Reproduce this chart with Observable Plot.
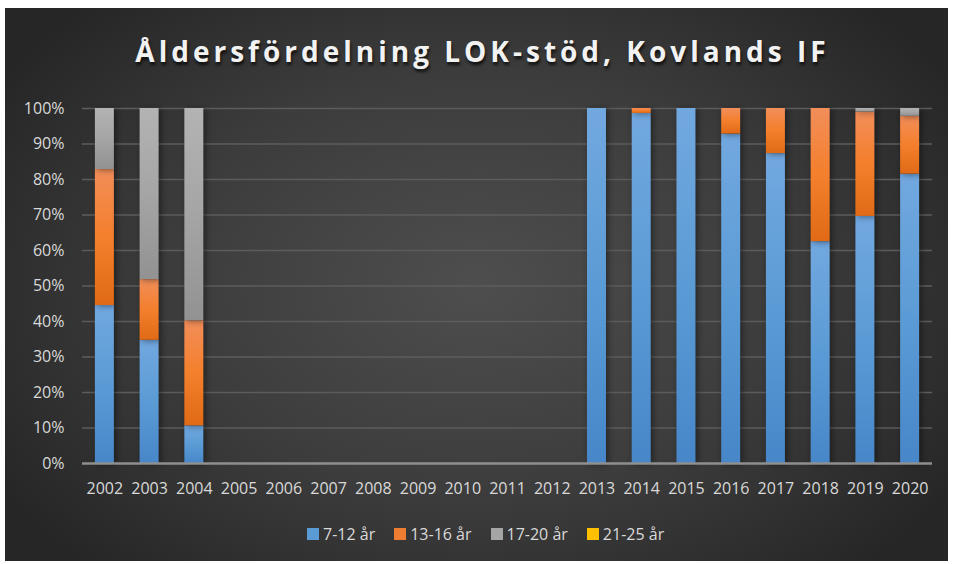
<!DOCTYPE html>
<html>
<head>
<meta charset="utf-8">
<script src="https://cdn.jsdelivr.net/npm/d3@7"></script>
<script src="https://cdn.jsdelivr.net/npm/@observablehq/plot@0.6"></script>
<style>
  html, body { margin: 0; padding: 0; background: #ffffff; }
  #box {
    position: absolute; left: 5px; top: 8px; width: 943px; height: 553px;
    background: radial-gradient(ellipse 60% 70% at 50% 50%, #4e4e4e 0%, #3c3c3c 55%, #262626 100%);
    overflow: hidden; font-family: "Open Sans", sans-serif;
  }
  #title {
    position: absolute; left: 0; top: 24px; width: 955px; text-align: center;
    color: #f2f2f2; font-size: 28px; font-weight: 700; letter-spacing: 4px;
    text-shadow: 1px 3px 3px rgba(0,0,0,0.7);
  }
  #chart { position: absolute; left: 0; top: 82px; }
  #legend {
    position: absolute; left: 302px; top: 515px; display: flex; align-items: center;
    color: #d9d9d9; font-size: 16px;
  }
  #legend .item { display: flex; align-items: center; margin-right: 19px; }
  #legend .sw { width: 12px; height: 12px; margin-right: 4px; }
  g[aria-label="bar"] rect { filter: drop-shadow(2px 1px 3px rgba(0,0,0,0.45)); }
</style>
</head>
<body>
<svg width="0" height="0" style="position:absolute">
  <defs>
    <linearGradient id="g0" x1="0" y1="0" x2="0" y2="1">
      <stop offset="0" stop-color="#72a8e0"/><stop offset="0.5" stop-color="#5b9bd5"/><stop offset="1" stop-color="#4787c9"/>
    </linearGradient>
    <linearGradient id="g1" x1="0" y1="0" x2="0" y2="1">
      <stop offset="0" stop-color="#f28e5a"/><stop offset="0.5" stop-color="#f47f2c"/><stop offset="1" stop-color="#e06a16"/>
    </linearGradient>
    <linearGradient id="g2" x1="0" y1="0" x2="0" y2="1">
      <stop offset="0" stop-color="#b3b3b3"/><stop offset="0.5" stop-color="#a5a5a5"/><stop offset="1" stop-color="#929292"/>
    </linearGradient>
    <linearGradient id="g3" x1="0" y1="0" x2="0" y2="1">
      <stop offset="0" stop-color="#ffcd33"/><stop offset="1" stop-color="#f0b400"/>
    </linearGradient>
  </defs>
</svg>
<div id="box">
  <div id="title">Åldersfördelning LOK-stöd, Kovlands IF</div>
  <div id="chart"></div>
  <div id="legend"></div>
</div>
<script>
const years = ["2002","2003","2004","2005","2006","2007","2008","2009","2010","2011","2012","2013","2014","2015","2016","2017","2018","2019","2020"];
const series = ["7-12 år","13-16 år","17-20 år","21-25 år"];
const s712  = [44.5, 34.7, 10.6, 0, 0, 0, 0, 0, 0, 0, 0, 100, 98.6, 100, 92.8, 87.3, 62.5, 69.6, 81.5];
const s1316 = [38.3, 17.1, 29.6, 0, 0, 0, 0, 0, 0, 0, 0, 0, 1.4, 0, 7.2, 12.7, 37.5, 29.4, 16.3];
const s1720 = [17.2, 48.2, 59.8, 0, 0, 0, 0, 0, 0, 0, 0, 0, 0, 0, 0, 0, 0, 1.0, 2.2];
const s2125 = [0, 0, 0, 0, 0, 0, 0, 0, 0, 0, 0, 0, 0, 0, 0, 0, 0, 0, 0];
const yTicks = [0, 10, 20, 30, 40, 50, 60, 70, 80, 90, 100];
const swatchColors = ["#5b9bd5", "#ed7d31", "#a5a5a5", "#ffc000"];
const gradients = ["url(#g0)", "url(#g1)", "url(#g2)", "url(#g3)"];

const values = [s712, s1316, s1720, s2125];
const rows = [];
series.forEach((s, i) => years.forEach((y, j) => rows.push({year: y, serie: s, value: values[i][j]})));

const chart = Plot.plot({
  width: 943, height: 418,
  marginLeft: 77, marginRight: 16, marginTop: 18, marginBottom: 45,
  style: {background: "transparent", color: "#d9d9d9", fontFamily: "'Open Sans', sans-serif", fontSize: "16px", overflow: "visible"},
  x: {domain: years, paddingInner: 0.575, paddingOuter: 0.2875, round: false, label: null, tickSize: 0, tickPadding: 19},
  y: {domain: [0, 100], ticks: yTicks, tickFormat: d => d + "%", label: null, tickSize: 0, tickPadding: 18},
  color: {domain: series, range: gradients},
  marks: [
    Plot.ruleY(yTicks.filter(d => d > 0), {stroke: "#5c5c5c", strokeWidth: 1.3}),
    Plot.barY(rows, {x: "year", y: "value", fill: "serie"}),
    Plot.ruleY([0], {stroke: "#8f8f8f", strokeWidth: 2.5})
  ]
});
document.getElementById("chart").appendChild(chart);

const legend = document.getElementById("legend");
series.forEach((s, i) => {
  const item = document.createElement("div");
  item.className = "item";
  const sw = document.createElement("div");
  sw.className = "sw";
  sw.style.background = swatchColors[i];
  const t = document.createElement("span");
  t.textContent = s;
  item.appendChild(sw); item.appendChild(t);
  legend.appendChild(item);
});
</script>
</body>
</html>
